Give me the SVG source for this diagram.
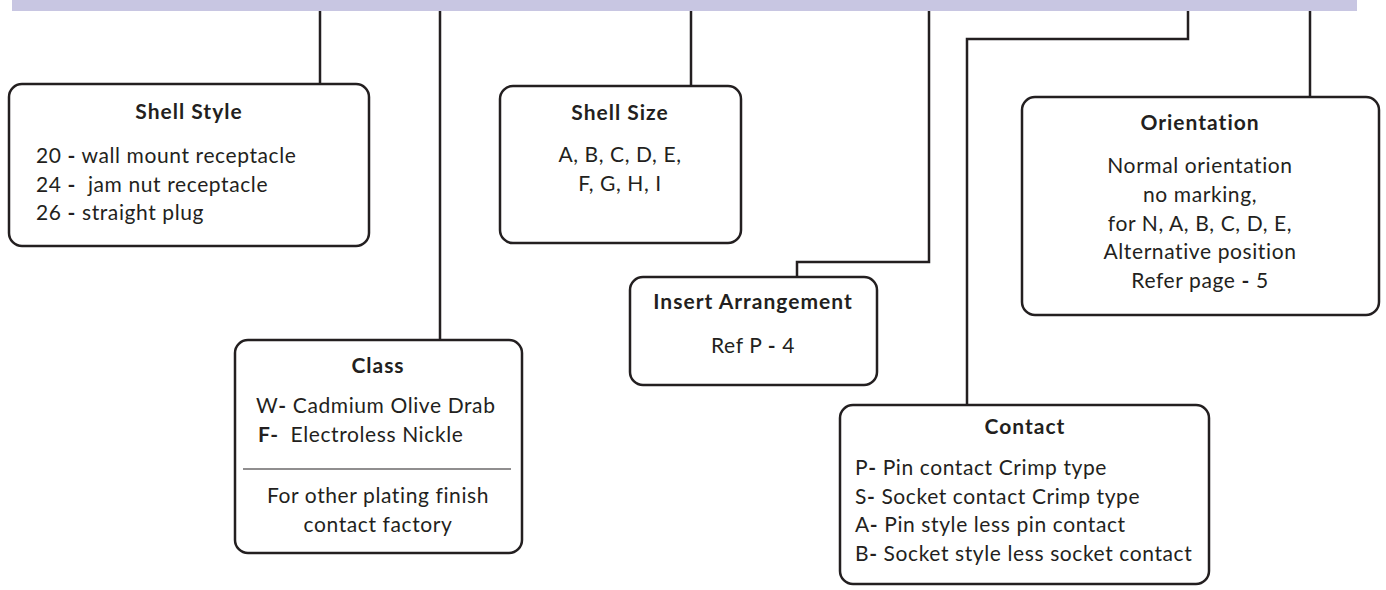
<svg xmlns="http://www.w3.org/2000/svg" width="1386" height="590" viewBox="0 0 1386 590">
<style>
.box{fill:#fff;stroke:#231f20;stroke-width:2.5}
.wire{fill:none;stroke:#231f20;stroke-width:2.5}
text{font-family:Lato,"Open Sans","Liberation Sans",sans-serif;font-size:21px;letter-spacing:0.6px;fill:#231f20}
.t{font-weight:bold;font-size:21px;letter-spacing:1px;text-anchor:middle}
.c{text-anchor:middle}
.b{font-weight:bold}
</style>
<rect x="0" y="0" width="1386" height="590" fill="#fff"/>
<rect id="bar" x="12" y="0" width="1345" height="11" fill="#c8c6e2"/>
<g id="connectors">
<path class="wire" d="M320 11V84"/>
<path class="wire" d="M440 11V340"/>
<path class="wire" d="M691 11V86"/>
<path class="wire" d="M929 11V262H797V277"/>
<path class="wire" d="M1188 11V39H967V405"/>
<path class="wire" d="M1310 11V97"/>
</g>
<g id="shell-style">
<rect class="box" x="9" y="84" width="360" height="162" rx="13"/>
<text class="t" x="189" y="119">Shell Style</text>
<text x="36" y="163">20 <tspan class="b">-</tspan> wall mount receptacle</text>
<text x="36" y="192" xml:space="preserve">24 <tspan class="b">-</tspan>  jam nut receptacle</text>
<text x="36" y="220">26 <tspan class="b">-</tspan> straight plug</text>
</g>
<g id="class">
<rect class="box" x="235" y="340" width="287" height="213" rx="13"/>
<text class="t" x="378" y="373">Class</text>
<text x="256" y="413">W<tspan class="b">-</tspan> Cadmium Olive Drab</text>
<text x="258" y="442" xml:space="preserve"><tspan class="b">F-</tspan>  Electroless Nickle</text>
<line x1="243" y1="469" x2="511" y2="469" stroke="#231f20" stroke-width="1.2"/>
<text class="c" x="378" y="503">For other plating finish</text>
<text class="c" x="378" y="532">contact factory</text>
</g>
<g id="shell-size">
<rect class="box" x="500" y="86" width="241" height="157" rx="13"/>
<text class="t" x="620" y="120">Shell Size</text>
<text class="c" x="620" y="162">A, B, C, D, E,</text>
<text class="c" x="620" y="191">F, G, H, I</text>
</g>
<g id="insert-arrangement">
<rect class="box" x="630" y="277" width="247" height="108" rx="13"/>
<text class="t" x="753" y="309">Insert Arrangement</text>
<text class="c" x="753" y="353">Ref P <tspan class="b">-</tspan> 4</text>
</g>
<g id="contact">
<rect class="box" x="840" y="405" width="369" height="179" rx="13"/>
<text class="t" x="1025" y="434">Contact</text>
<text x="855" y="475">P<tspan class="b">-</tspan> Pin contact Crimp type</text>
<text x="855" y="504">S<tspan class="b">-</tspan> Socket contact Crimp type</text>
<text x="855" y="532">A<tspan class="b">-</tspan> Pin style less pin contact</text>
<text x="855" y="561">B<tspan class="b">-</tspan> Socket style less socket contact</text>
</g>
<g id="orientation">
<rect class="box" x="1022" y="97" width="357" height="218" rx="13"/>
<text class="t" x="1200" y="130">Orientation</text>
<text class="c" x="1200" y="173">Normal orientation</text>
<text class="c" x="1200" y="202">no marking,</text>
<text class="c" x="1200" y="231">for N, A, B, C, D, E,</text>
<text class="c" x="1200" y="259">Alternative position</text>
<text class="c" x="1200" y="288">Refer page <tspan class="b">-</tspan> 5</text>
</g>
</svg>
